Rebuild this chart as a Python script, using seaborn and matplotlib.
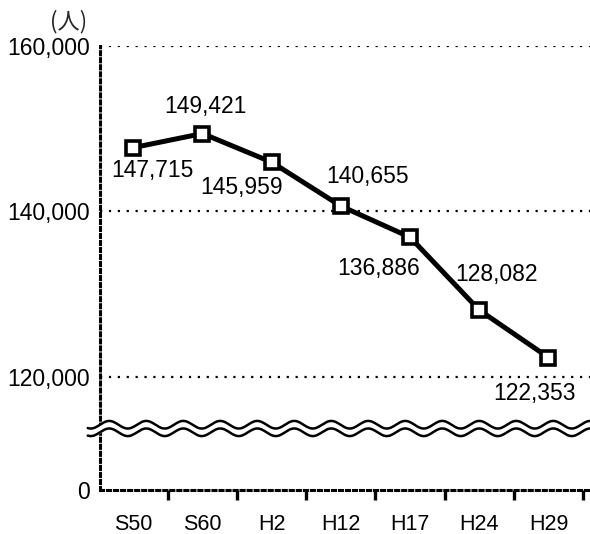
import numpy as np
import pandas as pd
import matplotlib
matplotlib.use("Agg")
import matplotlib.pyplot as plt
import seaborn as sns
from matplotlib.ticker import FixedLocator

# datos
anios = ["S50", "S60", "H2", "H12", "H17", "H24", "H29"]
poblacion = [147715, 149421, 145959, 140655, 136886, 128082, 122353]
yticks = [0, 120000, 140000, 160000]
ytick_labels = ["0", "120,000", "140,000", "160,000"]

sns.set_theme(style="white")
plt.rcParams['font.family'] = ['Liberation Sans', 'Noto Sans CJK JP', 'DejaVu Sans']

# eje cortado: 0 abajo, 120k-160k arriba
GAP = 13660.0
CORTE = 110000.0
BAJO = CORTE - 120000 + GAP


def fwd(y):
    y = np.asarray(y, dtype=float)
    return np.where(y >= CORTE, y - 120000 + GAP, y * BAJO / CORTE)


def inv(v):
    v = np.asarray(v, dtype=float)
    return np.where(v >= BAJO, v + 120000 - GAP, v * CORTE / BAJO)


df = pd.DataFrame({"x": np.arange(len(anios)), "y": poblacion})

fig = plt.figure(figsize=(5.9, 5.34), dpi=100)
ax = fig.add_axes([100 / 590, 44 / 534, 490 / 590, 444 / 534])
ax.set_yscale("function", functions=(fwd, inv))

sns.lineplot(data=df, x="x", y="y", ax=ax, color="black", linewidth=3.6,
             marker="s", markersize=10, markerfacecolor="white",
             markeredgecolor="black", markeredgewidth=2.6, zorder=5)

ax.set_ylim(0, 160000)
ax.set_xlim(-0.48, 6.6)

# grilla punteada
for v in yticks[1:]:
    ax.axhline(v, color="black", linestyle=(0, (1, 3)), linewidth=1.6, zorder=1)

for s in ["top", "right"]:
    ax.spines[s].set_visible(False)
for s in ["left", "bottom"]:
    ax.spines[s].set_linestyle((0, (1, 1.3)))
    ax.spines[s].set_linewidth(2.2)
    ax.spines[s].set_color("black")

ax.yaxis.set_major_locator(FixedLocator(yticks))
ax.set_yticklabels(ytick_labels)
ax.tick_params(axis="y", length=0, pad=7, labelsize=16.5, colors="black")

ax.set_xticks(range(len(anios)))
ax.set_xticklabels(anios)
ax.tick_params(axis="x", which="major", length=0, pad=17, labelsize=15.5, colors="black")
ax.xaxis.set_minor_locator(FixedLocator(np.arange(-0.5, 6.6, 1.0)))
ax.tick_params(axis="x", which="minor", bottom=True, length=7, width=2.4,
               direction="out", color="black")
ax.set_xlabel("")
ax.set_ylabel("")

# etiquetas de valores
offsets = [(19, -23), (3, 27), (-30, -25), (27, 30), (-31, -31), (17, 36), (-14, -36)]
for i, (v, off) in enumerate(zip(poblacion, offsets)):
    ax.annotate(f"{v:,}", (i, v), xytext=off, textcoords="offset pixels",
                ha="center", va="center", fontsize=16.5, color="black")

# unidad
ax.text(69 / 590, 1 - 22 / 534, "(人)", transform=fig.transFigure, ha="center",
        va="center", fontsize=16, family=['Noto Sans CJK JP', 'DejaVu Sans'])

# marca de corte ondulada
xs = np.linspace(-0.025, 1.0, 400)
periodo = 37 / 490
onda = 3.8 / 444 * np.sin(2 * np.pi * xs / periodo)
y1 = 0.147 + onda
y2 = 0.130 + onda
ax.fill_between(xs, y2, y1, color="white", transform=ax.transAxes, clip_on=False, zorder=8)
ax.plot(xs, y1, color="black", linewidth=1.8, transform=ax.transAxes, clip_on=False, zorder=9)
ax.plot(xs, y2, color="black", linewidth=1.8, transform=ax.transAxes, clip_on=False, zorder=9)

fig.savefig("out.png", dpi=100)
